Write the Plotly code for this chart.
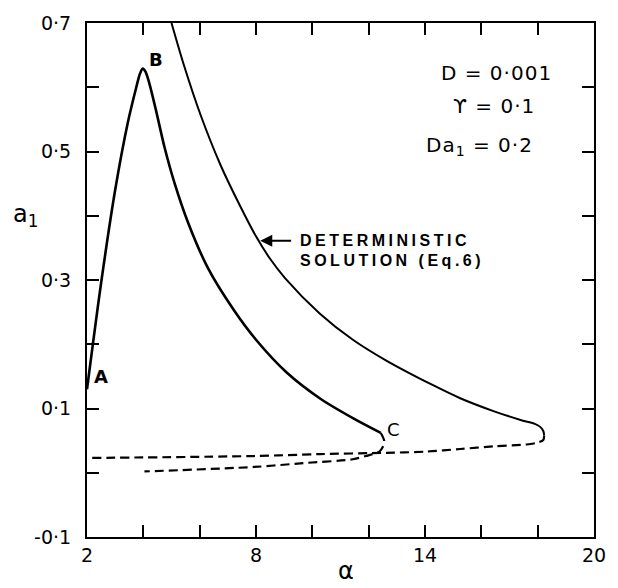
import plotly.graph_objects as go

# Stochastic solution: stable (solid) branch A -> B -> C
stoch_alpha = [2.0, 2.5, 3.0, 3.45, 3.75, 3.88, 3.98, 4.08, 4.22, 4.45, 4.75, 5.10, 5.60, 6.30, 7.20, 8.00, 9.09, 10.26, 11.44, 12.43]
stoch_a1 = [0.130, 0.295, 0.440, 0.545, 0.600, 0.621, 0.629, 0.624, 0.605, 0.564, 0.507, 0.452, 0.388, 0.318, 0.254, 0.207, 0.156, 0.116, 0.085, 0.062]
# Stochastic solution: unstable (dashed) branch from C
stoch_d_alpha = [12.43, 12.55, 12.50, 12.38, 11.90, 11.44, 9.68, 7.92, 4.04]
stoch_d_a1 = [0.062, 0.050, 0.040, 0.033, 0.026, 0.021, 0.015, 0.009, 0.002]

# Deterministic solution (Eq. 6): stable (solid) branch
det_alpha = [5.0, 5.45, 6.04, 6.74, 7.45, 8.0, 8.5, 9.03, 10.26, 11.44, 12.61, 14.25, 15.25, 16.43, 17.48, 17.90, 18.10, 18.20, 18.23]
det_a1 = [0.700, 0.633, 0.556, 0.479, 0.414, 0.368, 0.333, 0.303, 0.248, 0.207, 0.175, 0.137, 0.116, 0.096, 0.081, 0.076, 0.071, 0.065, 0.058]
# Deterministic solution: unstable (dashed) branch
det_d_alpha = [18.23, 18.20, 18.00, 17.60, 16.43, 15.25, 14.08, 12.61, 10.26, 7.92, 2.0]
det_d_a1 = [0.058, 0.051, 0.047, 0.044, 0.041, 0.037, 0.033, 0.031, 0.029, 0.026, 0.023]

x_tickvals = [2, 4, 6, 8, 10, 12, 14, 16, 18, 20]
x_ticktext = ["2", "", "", "8", "", "", "14", "", "", "20"]
y_tickvals = [-0.1, 0.0, 0.1, 0.2, 0.3, 0.4, 0.5, 0.6, 0.7]
y_ticktext = ["-0·1", "", "0·1", "", "0·3", "", "0·5", "", "0·7"]

FONT = "DejaVu Sans"

fig = go.Figure()
fig.add_trace(go.Scatter(x=stoch_alpha, y=stoch_a1, mode="lines",
                         line=dict(color="black", width=2.6, shape="spline", smoothing=0.8)))
fig.add_trace(go.Scatter(x=stoch_d_alpha, y=stoch_d_a1, mode="lines",
                         line=dict(color="black", width=2.2, dash="9px,5px", shape="spline", smoothing=0.8)))
fig.add_trace(go.Scatter(x=det_alpha, y=det_a1, mode="lines",
                         line=dict(color="black", width=2.0, shape="spline", smoothing=0.8)))
fig.add_trace(go.Scatter(x=det_d_alpha, y=det_d_a1, mode="lines",
                         line=dict(color="black", width=2.2, dash="9px,5px", shape="spline", smoothing=0.8)))

axis_common = dict(showline=True, linewidth=2, linecolor="black", mirror="ticks",
                   ticks="inside", ticklen=12, tickwidth=2, tickcolor="black",
                   showgrid=False, zeroline=False,
                   tickfont=dict(family=FONT, size=19, color="black"))

fig.update_xaxes(range=[2, 20], tickmode="array", tickvals=x_tickvals, ticktext=x_ticktext, **axis_common)
fig.update_yaxes(range=[-0.1, 0.7], tickmode="array", tickvals=y_tickvals, ticktext=y_ticktext,
                 ticklabelstandoff=10, **axis_common)

ann = []
def txt(x, y, s, size=20, bold=False, xanchor="center", family=FONT):
    ann.append(dict(x=x, y=y, xref="x", yref="y", text=(f"<b>{s}</b>" if bold else s),
                    showarrow=False, xanchor=xanchor, yanchor="middle",
                    font=dict(family=family, size=size, color="black")))

txt(2.49, 0.150, "A", size=18, bold=True)
txt(4.45, 0.643, "B", size=18, bold=True)
txt(12.88, 0.068, "C", size=18)
txt(16.54, 0.622, '<span style="letter-spacing:1px">D = 0·001</span>')
txt(16.44, 0.571, '<span style="letter-spacing:1px">ϒ = 0·1</span>')
txt(15.94, 0.509, '<span style="letter-spacing:1px">Da<sub>1</sub> = 0·2</span>')
txt(9.5, 0.361, '<span style="letter-spacing:3.5px">DETERMINISTIC</span>', size=16, bold=True,
    xanchor="left", family="Liberation Sans")
txt(9.5, 0.330, '<span style="letter-spacing:3.5px">SOLUTION (Eq.6)</span>', size=16, bold=True,
    xanchor="left", family="Liberation Sans")

# arrow pointing to deterministic curve
ann.append(dict(x=8.15, y=0.361, ax=9.3, ay=0.361, xref="x", yref="y", axref="x", ayref="y",
                text="", showarrow=True, arrowhead=2, arrowsize=1.2, arrowwidth=2, arrowcolor="black"))

# axis titles
ann.append(dict(x=0.511, y=0, xref="paper", yref="paper", yshift=-34, text="α", showarrow=False,
                font=dict(family=FONT, size=24, color="black"), yanchor="middle"))
ann.append(dict(x=0, y=0.625, xref="paper", yref="paper", xshift=-62, text="a<sub>1</sub>", showarrow=False,
                font=dict(family=FONT, size=24, color="black"), xanchor="center", yanchor="middle"))

fig.update_layout(width=618, height=588, margin=dict(l=87, r=20, t=16, b=51),
                  plot_bgcolor="white", paper_bgcolor="white", showlegend=False,
                  annotations=ann)

fig.write_html("out.html")
